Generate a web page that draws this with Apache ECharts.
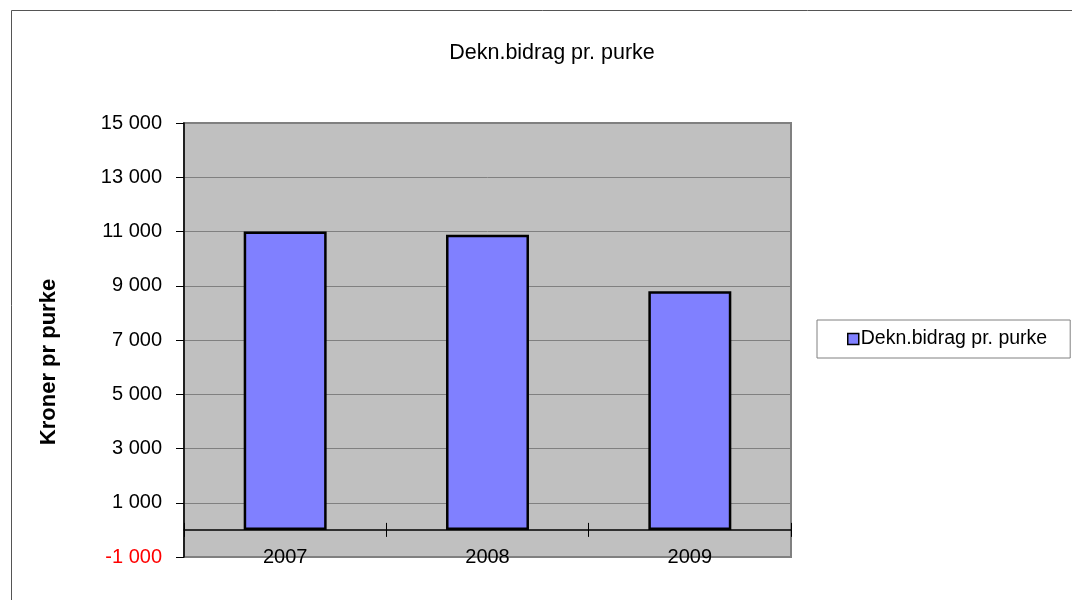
<!DOCTYPE html>
<html><head><meta charset="utf-8">
<script src="https://cdn.jsdelivr.net/npm/echarts@6/dist/echarts.min.js"></script>
<style>html,body{margin:0;padding:0;background:#fff}#c{width:1072px;height:600px}</style>
</head><body><div id="c"></div>
<script>
const categories = ['2007', '2008', '2009'];
const seriesName = 'Dekn.bidrag pr. purke';
const values = [11000, 10880, 8800];
const yTicks = { min: -1000, max: 15000, interval: 2000 };

function fmt(v) {
  const s = String(Math.abs(v)).replace(/\B(?=(\d{3})+(?!\d))/g, ' ');
  return (v < 0 ? '-' : '') + s;
}

const chart = echarts.init(document.getElementById('c'), null, { renderer: 'canvas' });
chart.setOption({
  backgroundColor: '#fff',
  animation: false,
  title: {
    text: 'Dekn.bidrag pr. purke',
    left: 547, top: 37, textAlign: 'center',
    textStyle: { fontFamily: 'Liberation Sans, Arial', fontSize: 21.5, fontWeight: 'normal', color: '#000' }
  },
  graphic: [{
    type: 'rect', shape: { x: 11.5, y: 10.5, width: 1100, height: 700 },
    style: { fill: 'none', stroke: '#555', lineWidth: 1 }, silent: true, z: -1
  }],
  legend: {
    left: 817, top: 320,
    padding: [9, 23, 9, 30],
    backgroundColor: '#fff', borderColor: '#808080', borderWidth: 1,
    itemWidth: 11, itemHeight: 11, itemGap: 4,
    icon: 'rect',
    textStyle: { fontFamily: 'Liberation Sans, Arial', fontSize: 19.5, color: '#000', padding: [0, 0, 0, -3] },
    data: [{ name: seriesName, itemStyle: { color: '#8080FF', borderColor: '#000', borderWidth: 1.5 } }]
  },
  grid: { left: 184, right: 281, top: 123, bottom: 43, show: true, backgroundColor: '#C0C0C0', borderColor: '#808080', borderWidth: 2 },
  xAxis: [{
    type: 'category', data: categories,
    axisLine: { onZero: true, onZeroAxisIndex: 0, lineStyle: { color: '#000', width: 1.5 } },
    axisTick: { show: true, length: 7, lineStyle: { color: '#000' } },
    axisLabel: { margin: -10, fontFamily: 'Liberation Sans, Arial', fontSize: 20, color: '#000' },
    splitLine: { show: false }
  }, {
    type: 'category', data: categories, position: 'bottom',
    axisLine: { show: true, onZero: true, onZeroAxisIndex: 1, lineStyle: { color: 'rgba(0,0,0,0)' } },
    axisTick: { show: true, inside: true, length: 7, lineStyle: { color: '#000' } },
    axisLabel: { show: false }
  }],
  yAxis: [{
    type: 'value', min: yTicks.min, max: yTicks.max, interval: yTicks.interval,
    name: 'Kroner pr purke', nameLocation: 'middle', nameGap: 124,
    nameTextStyle: { fontFamily: 'Liberation Sans, Arial', fontSize: 22, fontWeight: 'bold', color: '#000', padding: [0, 44, 0, 0] },
    axisLine: { show: true, lineStyle: { color: '#000', width: 1.5 } },
    axisTick: { show: true, length: 8, lineStyle: { color: '#000' } },
    axisLabel: {
      margin: 22, fontFamily: 'Liberation Sans, Arial', fontSize: 20,
      formatter: fmt,
      color: function (v) { return Number(v) < 0 ? '#FF0000' : '#000'; }
    },
    splitLine: { show: true, lineStyle: { color: '#808080', width: 1 } }
  }, {
    type: 'value', min: yTicks.min, max: yTicks.max, interval: yTicks.interval,
    position: 'left',
    axisLine: { show: false }, axisTick: { show: false }, axisLabel: { show: false }, splitLine: { show: false }
  }],
  series: [{
    name: seriesName, type: 'bar', data: values, barWidth: '41%', xAxisIndex: 0, yAxisIndex: 0,
    itemStyle: { color: '#8080FF', borderColor: '#000', borderWidth: 2.5 }
  }]
});
</script></body></html>
